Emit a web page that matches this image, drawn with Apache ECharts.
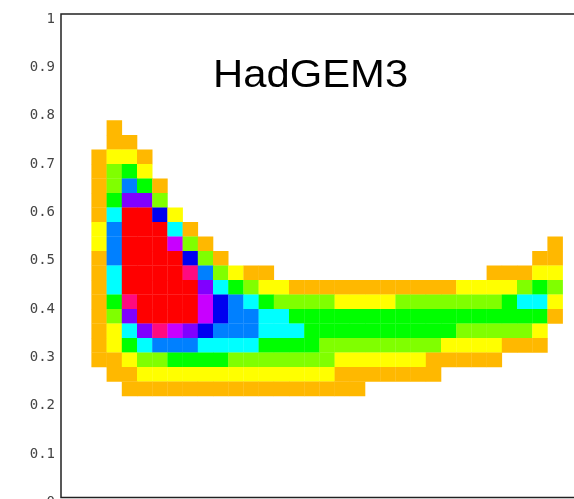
<!DOCTYPE html>
<html>
<head>
<meta charset="utf-8">
<script src="https://cdn.jsdelivr.net/npm/echarts@6/dist/echarts.min.js"></script>
<style>html,body{margin:0;padding:0;background:#fff;}#chart{width:574px;height:499px;}</style>
</head>
<body>
<div id="chart"></div>
<script>
// Colour levels: 0 = empty, 1..11 = increasing frequency
const levelColors = ['rgba(0,0,0,0)', '#FFB800', '#FFFF00', '#80FF00', '#00FF00', '#00FFFF', '#0080FF', '#0000F0', '#8000FF', '#C800FF', '#FF0A80', '#FF0000'];

// y bin lower edges, top row first
const yBinLower = [0.75, 0.72, 0.69, 0.66, 0.63, 0.60, 0.57, 0.54, 0.51, 0.48, 0.45, 0.42, 0.39, 0.36, 0.33, 0.30, 0.27, 0.24, 0.21];
const yBinWidth = 0.03;
// x bin indices (31 columns)
const xBins = [0,1,2,3,4,5,6,7,8,9,10,11,12,13,14,15,16,17,18,19,20,21,22,23,24,25,26,27,28,29,30];

// level per cell, rows top -> bottom, columns left -> right
const levels = [
  [0,1,0,0,0,0,0,0,0,0,0,0,0,0,0,0,0,0,0,0,0,0,0,0,0,0,0,0,0,0,0],
  [0,1,1,0,0,0,0,0,0,0,0,0,0,0,0,0,0,0,0,0,0,0,0,0,0,0,0,0,0,0,0],
  [1,2,2,1,0,0,0,0,0,0,0,0,0,0,0,0,0,0,0,0,0,0,0,0,0,0,0,0,0,0,0],
  [1,3,4,2,0,0,0,0,0,0,0,0,0,0,0,0,0,0,0,0,0,0,0,0,0,0,0,0,0,0,0],
  [1,3,6,4,1,0,0,0,0,0,0,0,0,0,0,0,0,0,0,0,0,0,0,0,0,0,0,0,0,0,0],
  [1,4,8,8,3,0,0,0,0,0,0,0,0,0,0,0,0,0,0,0,0,0,0,0,0,0,0,0,0,0,0],
  [1,5,11,11,7,2,0,0,0,0,0,0,0,0,0,0,0,0,0,0,0,0,0,0,0,0,0,0,0,0,0],
  [2,6,11,11,11,5,1,0,0,0,0,0,0,0,0,0,0,0,0,0,0,0,0,0,0,0,0,0,0,0,0],
  [2,6,11,11,11,9,3,1,0,0,0,0,0,0,0,0,0,0,0,0,0,0,0,0,0,0,0,0,0,0,1],
  [1,6,11,11,11,11,7,3,1,0,0,0,0,0,0,0,0,0,0,0,0,0,0,0,0,0,0,0,0,1,1],
  [1,5,11,11,11,11,10,6,3,2,1,1,0,0,0,0,0,0,0,0,0,0,0,0,0,0,1,1,1,2,2],
  [1,5,11,11,11,11,11,8,5,4,3,2,2,1,1,1,1,1,1,1,1,1,1,1,2,2,2,2,3,4,3],
  [1,4,10,11,11,11,11,9,7,6,5,4,3,3,3,3,2,2,2,2,3,3,3,3,3,3,3,4,5,5,2],
  [1,3,8,11,11,11,11,9,7,6,6,5,5,4,4,4,4,4,4,4,4,4,4,4,4,4,4,4,4,4,1],
  [1,2,5,8,10,9,8,7,6,6,6,5,5,5,4,4,4,4,4,4,4,4,4,4,3,3,3,3,3,2,0],
  [1,2,4,5,6,6,6,5,5,5,5,4,4,4,4,3,3,3,3,3,3,3,3,2,2,2,2,1,1,1,0],
  [1,1,2,3,3,4,4,4,4,3,3,3,3,3,3,3,2,2,2,2,2,2,1,1,1,1,1,0,0,0,0],
  [0,1,1,2,2,2,2,2,2,2,2,2,2,2,2,2,1,1,1,1,1,1,1,0,0,0,0,0,0,0,0],
  [0,0,1,1,1,1,1,1,1,1,1,1,1,1,1,1,1,1,0,0,0,0,0,0,0,0,0,0,0,0,0]
];

const yTicks = [0, 0.1, 0.2, 0.3, 0.4, 0.5, 0.6, 0.7, 0.8, 0.9, 1];
const panelTitle = 'HadGEM3';

const cells = [];
levels.forEach((row, j) => {
  row.forEach((lv, k) => {
    if (lv > 0) cells.push([xBins[k], yBinLower[j], lv]);
  });
});

const chart = echarts.init(document.getElementById('chart'), null, {renderer: 'canvas'});
chart.setOption({
  animation: false,
  backgroundColor: '#fff',
  grid: {left: 61, width: 547.2, top: 14, height: 483.5, outerBoundsMode: 'none', containLabel: false, show: true, borderColor: '#222', borderWidth: 1.5, backgroundColor: 'transparent'},
  xAxis: {type: 'value', min: -2, max: 34, axisLine: {show: false}, axisTick: {show: false}, axisLabel: {show: false}, splitLine: {show: false}},
  yAxis: {
    type: 'value', min: 0, max: 1, interval: 0.1,
    axisLine: {show: false}, axisTick: {show: false}, splitLine: {show: false},
    axisLabel: {
      margin: 6, color: '#444', fontFamily: 'DejaVu Sans Mono', fontSize: 14,
      verticalAlign: 'top', lineHeight: 10,
      formatter: v => { const t = yTicks.find(x => Math.abs(x - v) < 1e-6); return t === undefined ? '' : String(t); }
    }
  },
  graphic: [{
    type: 'text', x: 213, y: 77, scaleX: 1.1,
    style: {text: panelTitle, x: 0, y: 0, font: '38px "Liberation Sans"', fill: '#000', verticalAlign: 'middle', align: 'left'}
  }],
  series: [{
    type: 'custom',
    data: cells,
    clip: true,
    renderItem: (params, api) => {
      const x = api.value(0), y = api.value(1), lv = api.value(2);
      const p = api.coord([x, y + yBinWidth]);
      const s = api.size([1, yBinWidth]);
      return {
        type: 'rect',
        shape: {x: p[0], y: p[1], width: s[0] + 0.3, height: s[1] + 0.3},
        style: {fill: levelColors[lv]}
      };
    }
  }]
});
</script>
</body>
</html>
